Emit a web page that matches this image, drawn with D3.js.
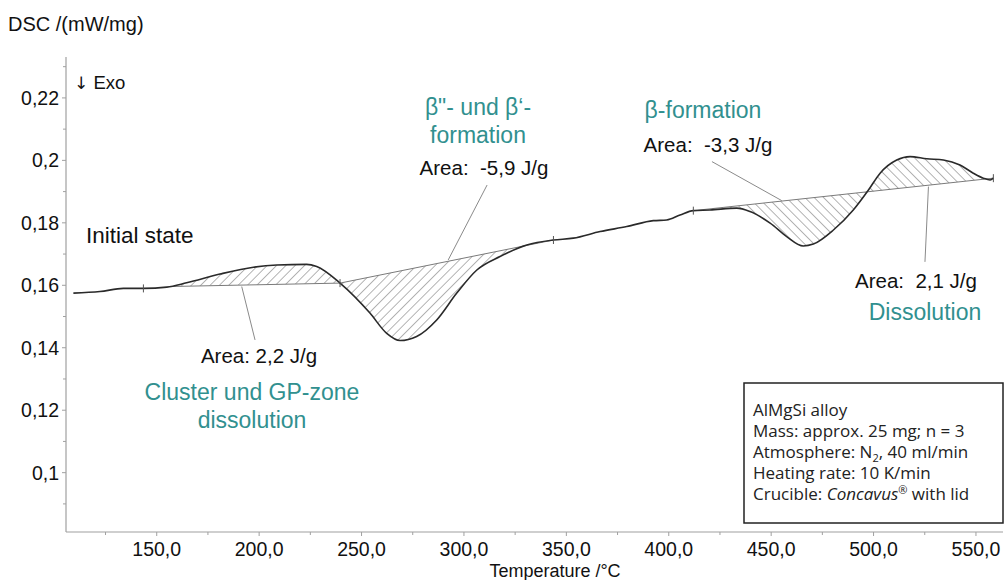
<!DOCTYPE html>
<html><head><meta charset="utf-8">
<script src="https://cdn.jsdelivr.net/npm/d3@7"></script>
<style>
html,body{margin:0;padding:0;background:#fff;}
svg{display:block;font-family:"Liberation Sans",Arial,sans-serif;}
</style></head>
<body>
<svg id="c" width="1004" height="580"></svg>
<script>
// ---- data ----
const temps = [109.3,122.3,133.7,143.5,154.9,164.6,180.9,197.2,208.6,223.2,228.1,239.5,254.1,262.3,268.8,276.9,286.7,296.5,306.3,317.6,330.7,343.7,353.4,366.5,379.5,392.5,399.0,405.5,412.0,420.1,433.2,439.7,449.5,457.6,465.7,470.6,480.4,490.1,497.5,503.2,511.3,517.8,526.0,534.1,542.2,548.7,553.6,556.9,558.5];
const dsc   = [0.1575,0.1580,0.1590,0.1590,0.1594,0.1608,0.1636,0.1658,0.1665,0.1667,0.1660,0.1607,0.1511,0.1446,0.1423,0.1436,0.1489,0.1575,0.1649,0.1692,0.1729,0.1745,0.1751,0.1772,0.1788,0.1807,0.1809,0.1825,0.1839,0.1841,0.1847,0.1836,0.1799,0.1756,0.1726,0.1732,0.1777,0.1841,0.1905,0.1959,0.2001,0.2012,0.2005,0.2001,0.1985,0.1959,0.1943,0.1937,0.1943];
// baseline segments used for peak integration
const baseT0 = [156.5, 239.5, 412.0];
const baseV0 = [0.1596, 0.1607, 0.1839];
const baseT1 = [239.5, 343.7, 558.5];
const baseV1 = [0.1607, 0.1745, 0.1943];
const hatchDir = ["up","up","down"];
const markerTemps = [143.5, 239.5, 343.7, 412.0, 558.5];
// leader lines (data coords)
const leadT0 = [191.5, 311.3, 421.1, 526.8];
const leadV0 = [0.1596, 0.1921, 0.1996, 0.1916];
const leadT1 = [198.0, 292.3, 455.2, 525.1];
const leadV1 = [0.1425, 0.1681, 0.1871, 0.1675];
// axes ticks
const xTicks = [150,200,250,300,350,400,450,500,550];
const xTickLabels = ["150,0","200,0","250,0","300,0","350,0","400,0","450,0","500,0","550,0"];
const xMinor = [125,175,225,275,325,375,425,475,525];
const yTicks = [0.10,0.12,0.14,0.16,0.18,0.20,0.22];
const yTickLabels = ["0,1","0,12","0,14","0,16","0,18","0,2","0,22"];
const yMinor = [0.09,0.11,0.13,0.15,0.17,0.19,0.21,0.23];
const legendLines = ["AlMgSi alloy","Mass: approx. 25 mg; n = 3","Atmosphere: N2, 40 ml/min","Heating rate: 10 K/min","Crucible: Concavus® with lid"];

// ---- chart ----
const svg = d3.select("#c");
const x = d3.scaleLinear().domain([105.7, 563.2]).range([66, 1003]);
const y = d3.scaleLinear().domain([0.081, 0.2331]).range([532, 57]);
const teal = "#31908f";
const axisCol = "#a0a0a0";

const defs = svg.append("defs");
function hatch(id, angle){
  const p = defs.append("pattern").attr("id", id).attr("patternUnits","userSpaceOnUse")
    .attr("width", 6.6).attr("height", 6.6).attr("patternTransform", `rotate(${angle})`);
  p.append("line").attr("x1",0).attr("y1",0).attr("x2",0).attr("y2",6.6)
    .attr("stroke","#5a5a5a").attr("stroke-width",0.9);
}
hatch("hUp", 45);
hatch("hDown", -45);

const data = temps.map((t,i)=>({t, v:dsc[i]}));
const curve = d3.curveMonotoneX;

// hatched areas
baseT0.forEach((t0,k)=>{
  const t1 = baseT1[k];
  const slope = (baseV1[k]-baseV0[k])/(t1-t0);
  const bl = t => baseV0[k] + slope*(t-t0);
  defs.append("clipPath").attr("id","clip"+k).append("rect")
    .attr("x", x(t0)).attr("y", 0).attr("width", x(t1)-x(t0)).attr("height", 580);
  const area = d3.area().curve(curve).x(d=>x(d.t)).y0(d=>y(bl(d.t))).y1(d=>y(d.v));
  svg.append("path").datum(data).attr("d", area)
    .attr("fill", hatchDir[k]==="up" ? "url(#hUp)" : "url(#hDown)")
    .attr("clip-path", `url(#clip${k})`);
  svg.append("line").attr("x1",x(t0)).attr("y1",y(baseV0[k])).attr("x2",x(t1)).attr("y2",y(baseV1[k]))
    .attr("stroke","#7a7a7a").attr("stroke-width",1);
});

// leader lines
leadT0.forEach((t,i)=>{
  svg.append("line").attr("x1",x(t)).attr("y1",y(leadV0[i])).attr("x2",x(leadT1[i])).attr("y2",y(leadV1[i]))
    .attr("stroke","#8a8a8a").attr("stroke-width",1);
});

// axes
const gx = svg.append("g").attr("transform","translate(0,532)");
gx.append("line").attr("x1",66).attr("x2",1003).attr("stroke",axisCol).attr("stroke-width",1.2);
gx.selectAll(".mj").data(xTicks).join("line").attr("x1",d=>x(d)).attr("x2",d=>x(d)).attr("y1",0).attr("y2",4).attr("stroke",axisCol);
gx.selectAll(".mn").data(xMinor).join("line").attr("class","mn").attr("x1",d=>x(d)).attr("x2",d=>x(d)).attr("y1",0).attr("y2",3).attr("stroke",axisCol);
gx.selectAll("text").data(xTicks).join("text").attr("x",d=>x(d)).attr("y",23.5).attr("text-anchor","middle")
  .attr("font-size",19.5).attr("fill","#111").text((d,i)=>xTickLabels[i]);

const gy = svg.append("g").attr("transform","translate(66,0)");
gy.append("line").attr("y1",57).attr("y2",532).attr("stroke",axisCol).attr("stroke-width",1.2);
gy.selectAll(".mj").data(yTicks).join("line").attr("y1",d=>y(d)).attr("y2",d=>y(d)).attr("x1",-4).attr("x2",0).attr("stroke",axisCol);
gy.selectAll(".mn").data(yMinor).join("line").attr("class","mn").attr("y1",d=>y(d)).attr("y2",d=>y(d)).attr("x1",-3).attr("x2",0).attr("stroke",axisCol);
gy.selectAll("text").data(yTicks).join("text").attr("x",-7).attr("y",d=>y(d)+7).attr("text-anchor","end")
  .attr("font-size",19.5).attr("fill","#111").text((d,i)=>yTickLabels[i]);

// curve
svg.append("path").datum(data).attr("d", d3.line().curve(curve).x(d=>x(d.t)).y(d=>y(d.v)))
  .attr("fill","none").attr("stroke","#2a2a2a").attr("stroke-width",1.6);

// small markers on curve
const interp = t => { const i = d3.bisector(d=>d.t).left(data,t); if(i<=0) return data[0].v; if(i>=data.length) return data[data.length-1].v;
  const a=data[i-1], b=data[i]; return a.v+(b.v-a.v)*(t-a.t)/(b.t-a.t); };
markerTemps.forEach(t=>{
  const cy = y(interp(t));
  svg.append("line").attr("x1",x(t)).attr("x2",x(t)).attr("y1",cy-4).attr("y2",cy+4).attr("stroke","#555").attr("stroke-width",1);
});

// titles
svg.append("text").attr("x",8).attr("y",31).attr("font-size",20).attr("fill","#111").text("DSC /(mW/mg)");
const exo = svg.append("text").attr("x",74).attr("y",89).attr("font-size",18.5).attr("fill","#111");
exo.append("tspan").attr("font-family","'DejaVu Sans',sans-serif").attr("font-size",17).text("↓");
exo.append("tspan").text(" Exo");
svg.append("text").attr("x",555).attr("y",577).attr("text-anchor","middle").attr("font-size",18).attr("fill","#111").text("Temperature /°C");

// annotations
const ann = [
  {s:"Initial state", px:86, py:243, a:"start", c:"#111", f:22.5},
  {s:"Area: 2,2 J/g", px:259, py:363, a:"middle", c:"#111", f:20.5},
  {s:"Cluster und GP-zone", px:252, py:400, a:"middle", c:teal, f:23},
  {s:"dissolution", px:252, py:428, a:"middle", c:teal, f:23},
  {s:"β\"- und β‘-", px:478, py:115, a:"middle", c:teal, f:23},
  {s:"formation", px:478, py:143, a:"middle", c:teal, f:23},
  {s:"Area:  -5,9 J/g", px:484, py:175, a:"middle", c:"#111", f:20.5},
  {s:"β-formation", px:703, py:118, a:"middle", c:teal, f:23},
  {s:"Area:  -3,3 J/g", px:708, py:152, a:"middle", c:"#111", f:20.5},
  {s:"Area:  2,1 J/g", px:916, py:288, a:"middle", c:"#111", f:20.5},
  {s:"Dissolution", px:925, py:320, a:"middle", c:teal, f:23}
];
svg.selectAll(".ann").data(ann).join("text").attr("class","ann")
  .attr("x",d=>d.px).attr("y",d=>d.py).attr("text-anchor",d=>d.a).attr("fill",d=>d.c)
  .attr("font-size",d=>d.f).style("white-space","pre").attr("xml:space","preserve").text(d=>d.s);

// legend box
const lg = svg.append("g");
lg.append("rect").attr("x",744).attr("y",383).attr("width",259).attr("height",140)
  .attr("fill","#fff").attr("stroke","#222").attr("stroke-width",1.5);
const lt = lg.append("g").attr("font-family","'Open Sans',sans-serif").attr("font-size",17).attr("fill","#222");
legendLines.forEach((s,i)=>{
  const t = lt.append("text").attr("x",753).attr("y",416+i*21);
  if(i===2){
    t.append("tspan").text("Atmosphere: N");
    t.append("tspan").attr("font-size",11).attr("dy",4).text("2");
    t.append("tspan").attr("dy",-4).text(", 40 ml/min");
  } else if(i===4){
    t.append("tspan").text("Crucible: ");
    t.append("tspan").attr("font-style","italic").text("Concavus");
    t.append("tspan").attr("font-size",11).attr("dy",-6).text("®");
    t.append("tspan").attr("dy",6).text(" with lid");
  } else t.text(s);
});
</script>
</body></html>
